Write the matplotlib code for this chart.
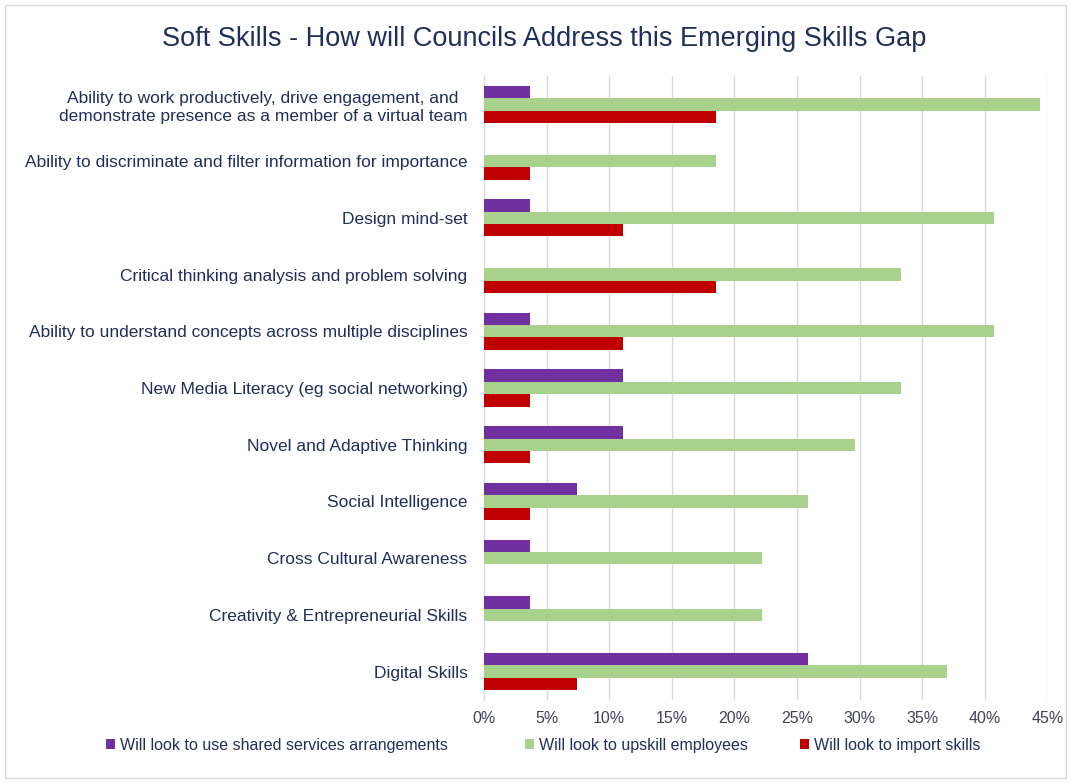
import numpy as np
import matplotlib
matplotlib.use('Agg')
import matplotlib.pyplot as plt
from matplotlib.patches import Rectangle
from matplotlib.ticker import PercentFormatter

plt.rcParams['font.family'] = ['Liberation Sans', 'DejaVu Sans']

skills = [
    "Ability to work productively, drive engagement, and\ndemonstrate presence as a member of a virtual team",
    "Ability to discriminate and filter information for importance",
    "Design mind-set",
    "Critical thinking analysis and problem solving",
    "Ability to understand concepts across multiple disciplines",
    "New Media Literacy (eg social networking)",
    "Novel and Adaptive Thinking",
    "Social Intelligence",
    "Cross Cultural Awareness",
    "Creativity & Entrepreneurial Skills",
    "Digital Skills",
]

# percentage of councils choosing each approach
shared = [3.7, 0, 3.7, 0, 3.7, 11.1, 11.1, 7.4, 3.7, 3.7, 25.9]
upskill = [44.4, 18.5, 40.7, 33.3, 40.7, 33.3, 29.6, 25.9, 22.2, 22.2, 37.0]
import_skills = [18.5, 3.7, 11.1, 18.5, 11.1, 3.7, 3.7, 3.7, 0, 0, 7.4]

series_names = ["Will look to use shared services arrangements",
                "Will look to upskill employees",
                "Will look to import skills"]
colors = ['#7030A0', '#A9D18E', '#C00000']
navy = '#1F2F5C'

fig = plt.figure(figsize=(10.71, 7.83), dpi=100)
ax = fig.add_axes([0.452, 0.106, 0.526, 0.797])

y = np.arange(len(skills))
h = 0.218
bars = []
for k, vals in enumerate([shared, upskill, import_skills]):
    bars.append(ax.barh(y + (k - 1) * h, vals, height=h, color=colors[k],
                        label=series_names[k], zorder=3))

ax.set_ylim(len(skills) - 0.5, -0.5)
ax.set_xlim(0, 45)
ax.set_xticks(np.arange(0, 46, 5))
ax.xaxis.set_major_formatter(PercentFormatter(decimals=0))
ax.set_yticks(y)
ax.set_yticklabels(skills)
for lab in ax.get_yticklabels():
    lab.set_multialignment('center')
    lab.set_linespacing(1.3)

ax.grid(axis='x', color='#D9D9D9', linewidth=1, zorder=0)
for s in ['top', 'right', 'bottom']:
    ax.spines[s].set_visible(False)
ax.spines['left'].set_color('#D9D9D9')
ax.tick_params(axis='y', length=0, pad=12, labelsize=12.5, labelcolor=navy)
ax.tick_params(axis='x', length=0, pad=8, labelsize=11.5, labelcolor='#404060')

fig.text(0.508, 0.950, "Soft Skills - How will Councils Address this Emerging Skills Gap",
         ha='center', va='center', fontsize=19.5, color=navy)

# one legend per series so each entry sits where it should along the bottom
for b, x0 in zip(bars, [0.099, 0.490, 0.747]):
    fig.legend(handles=[b], loc='center left', bbox_to_anchor=(x0, 0.048),
               frameon=False, fontsize=11.5, labelcolor=navy,
               handlelength=0.55, handleheight=0.55, handletextpad=0.35,
               borderpad=0, borderaxespad=0)

fig.patches.append(Rectangle((0.005, 0.006), 0.99, 0.988, transform=fig.transFigure,
                             fill=False, edgecolor='#D9D9D9', linewidth=1))

fig.savefig('out.png', dpi=100)
